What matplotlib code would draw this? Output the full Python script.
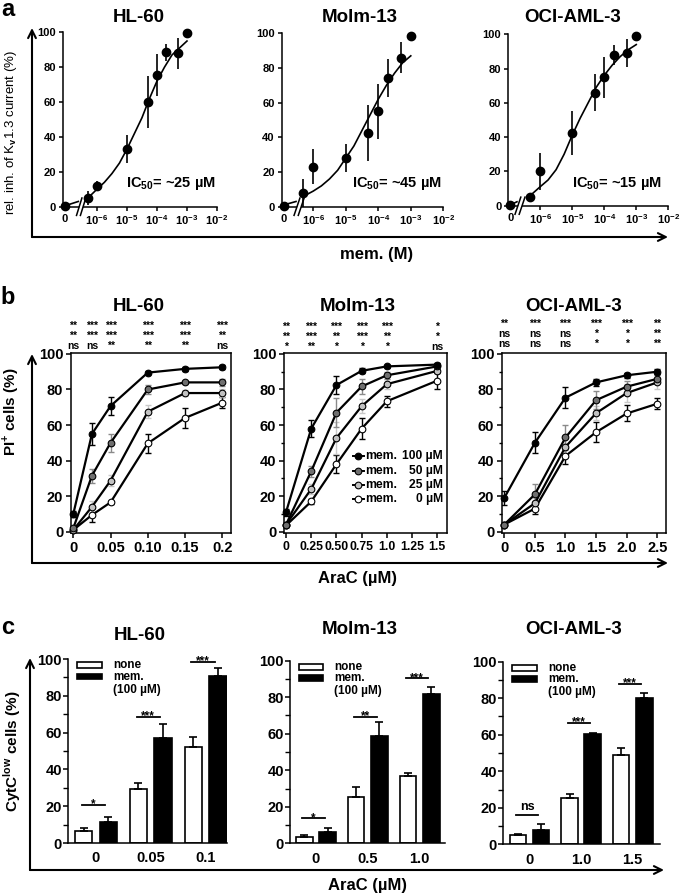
import numpy as np
import matplotlib
matplotlib.use("Agg")
import matplotlib.pyplot as plt
import matplotlib.transforms as mtransforms
from matplotlib.patches import Rectangle, Polygon

plt.rcParams['font.family'] = ['Liberation Sans', 'DejaVu Sans']
plt.rcParams['font.weight'] = 'bold'
plt.rcParams['mathtext.fontset'] = 'custom'
plt.rcParams['mathtext.rm'] = 'Liberation Sans'
plt.rcParams['mathtext.bf'] = 'Liberation Sans:bold'
plt.rcParams['axes.linewidth'] = 1.1
plt.rcParams['xtick.major.width'] = 1.1
plt.rcParams['ytick.major.width'] = 1.1
plt.rcParams['ytick.minor.width'] = 1.0

# ---------------- data: panel a (Kv1.3 inhibition) ----------------
CELL_LINES = ["HL-60", "Molm-13", "OCI-AML-3"]
A_CONC = [0, 5e-7, 1e-6, 1e-5, 5e-5, 1e-4, 2e-4, 5e-4, 1e-3]
A_INH_HL60 = [0.5, 5, 12, 33, 60, 75.5, 88.5, 88, 99.5]
A_ERR_HL60 = [0, 4, 3, 8, 15, 12, 5, 9, 0]
A_INH_MOLM = [0.5, 8, 23, 28, 42.5, 55, 74, 86, 98.5]
A_ERR_MOLM = [0, 8, 10, 8, 16, 16, 11, 9, 0]
A_INH_OCI = [0.5, 5, 20, 42.5, 66, 75, 88, 89, 99]
A_ERR_OCI = [0, 2, 11, 13, 11, 12, 6, 8, 0]
# fitted curve
FIT_LOG = [-6.3, -6.0, -5.75, -5.5, -5.25, -5.0, -4.75, -4.5, -4.25, -4.0, -3.75, -3.5, -3.25, -3.0]
FIT_HL60 = [5, 10, 14, 19, 25, 33, 42, 51, 62, 72, 80, 87, 91, 95]
FIT_MOLM = [6, 9, 12, 16, 21, 28, 35, 44, 53, 62, 70, 77, 83, 87]
FIT_OCI = [6, 11, 15, 21, 30, 41, 51, 60, 69, 76, 82, 87, 91, 94]
PRE_HL60 = [0.5, 3]
PRE_MOLM = [1, 3]
PRE_OCI = [0.4, 2.3]
IC50_TEXT = ["IC$_{\\mathbf{50}}$= ~25 µM", "IC$_{\\mathbf{50}}$= ~45 µM", "IC$_{\\mathbf{50}}$= ~15 µM"]
A_XTICKS = [-6, -5, -4, -3, -2]
A_XLABELS = ["10$^{\\mathbf{-6}}$", "10$^{\\mathbf{-5}}$", "10$^{\\mathbf{-4}}$",
             "10$^{\\mathbf{-3}}$", "10$^{\\mathbf{-2}}$"]

# ---------------- data: panel b (PI+ cells) ----------------
DOSES = ["100", "50", "25", "0"]
B_X_HL60 = [0, 0.025, 0.05, 0.1, 0.15, 0.2]
B_HL60 = [[10, 55, 70.7, 89.5, 91.6, 92.5],
          [2, 31.5, 50, 80, 84, 84],
          [1, 14, 28.7, 67.5, 78, 78],
          [1, 9.4, 16.5, 49.7, 64, 72.6]]
B_ERR_HL60 = [[1.5, 6, 5, 1, 1, 1],
              [1, 4, 5, 2.5, 1, 2],
              [1, 3, 3, 3.5, 1.5, 2],
              [1, 4, 1, 5.5, 5.5, 3]]
B_X_MOLM = [0, 0.25, 0.5, 0.75, 1.0, 1.5]
B_MOLM = [[11, 58, 82.5, 90.5, 93, 94],
          [4, 34, 67, 81.7, 88, 93],
          [4, 24, 52.7, 70.6, 83, 90.5],
          [3.5, 17, 38, 58, 73.4, 85]]
B_ERR_MOLM = [[2, 5, 5, 1.5, 1, 1],
              [1, 3, 8, 4, 2, 1.5],
              [1, 3, 9, 4, 3, 1.5],
              [1, 1.5, 5, 6, 3, 4.5]]
B_X_OCI = [0, 0.5, 1.0, 1.5, 2.0, 2.5]
B_OCI = [[19, 50, 75.4, 84, 88, 90],
         [4, 21, 53, 74, 81.6, 86],
         [4, 16, 47.7, 66.7, 78, 84],
         [4, 13, 42.6, 56, 66.5, 72]]
B_ERR_OCI = [[4, 6, 6, 2, 1.5, 1.5],
             [1, 6, 7, 5, 3, 2],
             [1, 3, 5, 4, 5, 4],
             [1, 3, 4.5, 5.5, 4.5, 3]]
B_SIG_HL60 = [["**", "**", "ns"], ["***", "***", "ns"], ["***", "***", "**"],
              ["***", "***", "**"], ["***", "***", "**"], ["***", "**", "ns"]]
B_SIG_MOLM = [["**", "**", "*"], ["***", "***", "**"], ["***", "**", "*"],
              ["***", "***", "*"], ["***", "**", "*"], ["*", "*", "ns"]]
B_SIG_OCI = [["**", "ns", "ns"], ["***", "ns", "ns"], ["***", "ns", "ns"],
             ["***", "*", "*"], ["***", "*", "*"], ["**", "**", "**"]]
B_XTICKS_HL60 = [0, 0.05, 0.10, 0.15, 0.2]
B_XLAB_HL60 = ["0", "0.05", "0.10", "0.15", "0.2"]
B_XTICKS_MOLM = [0, 0.25, 0.5, 0.75, 1.0, 1.25, 1.5]
B_XLAB_MOLM = ["0", "0.25", "0.50", "0.75", "1.0", "1.25", "1.5"]
B_XTICKS_OCI = [0, 0.5, 1.0, 1.5, 2.0, 2.5]
B_XLAB_OCI = ["0", "0.5", "1.0", "1.5", "2.0", "2.5"]

# ---------------- data: panel c (CytC low cells) ----------------
C_LAB_HL60 = ["0", "0.05", "0.1"]
C_NONE_HL60 = [6.3, 29.3, 52.4]
C_NONE_ERR_HL60 = [1.7, 3.4, 5.1]
C_MEM_HL60 = [11.2, 57, 91]
C_MEM_ERR_HL60 = [2.8, 7.5, 4]
C_SIG_HL60 = ["*", "***", "***"]
C_SIGY_HL60 = [20.8, 68.7, 98.5]
C_LAB_MOLM = ["0", "0.5", "1.0"]
C_NONE_MOLM = [3.3, 25.2, 37]
C_NONE_ERR_MOLM = [1.2, 5.5, 1.5]
C_MEM_MOLM = [6.4, 58.8, 81.6]
C_MEM_ERR_MOLM = [2, 7.5, 4]
C_SIG_MOLM = ["*", "**", "***"]
C_SIGY_MOLM = [13.7, 69.3, 90.3]
C_LAB_OCI = ["0", "1.0", "1.5"]
C_NONE_OCI = [5.1, 25.2, 48.9]
C_NONE_ERR_OCI = [0.5, 2.5, 4]
C_MEM_OCI = [7.8, 60.4, 80]
C_MEM_ERR_OCI = [3.5, 0.5, 3]
C_SIG_OCI = ["ns", "***", "***"]
C_SIGY_OCI = [16, 66.6, 87.8]

W, H = 685, 896
fig = plt.figure(figsize=(W / 100, H / 100), dpi=100)


def rect(l, t, r, b):
    return [l / W, 1 - b / H, (r - l) / W, (b - t) / H]


def ftext(x, y, s, **kw):
    fig.text(x / W, 1 - y / H, s, **kw)


# overlay for the big arrows
ov = fig.add_axes([0, 0, 1, 1], zorder=-1)
ov.set_xlim(0, W)
ov.set_ylim(H, 0)
ov.axis('off')


def big_axes(x0, ytop, ybot, xend):
    ap = dict(arrowstyle='->', lw=1.5, color='k', mutation_scale=14, shrinkA=0, shrinkB=0)
    ov.annotate('', xy=(x0, ytop), xytext=(x0, ybot), arrowprops=ap)
    ov.annotate('', xy=(xend, ybot), xytext=(x0, ybot), arrowprops=ap)


big_axes(32, 28, 237, 668)
big_axes(32, 354, 563, 668)
big_axes(30, 658, 870, 664)

ftext(8, 10, "a", fontsize=17, ha='center', va='center')
ftext(8, 297, "b", fontsize=17, ha='center', va='center')
ftext(8, 628, "c", fontsize=17, ha='center', va='center')

ftext(11, 132, "rel. inh. of K$_{\\mathrm{v}}$1.3 current (%)", fontsize=9.5, weight='normal',
      rotation=90, ha='center', va='center')
ftext(11, 412, "PI$^{\\mathbf{+}}$ cells (%)", fontsize=11, rotation=90, ha='center', va='center')
ftext(12, 751, "CytC$^{\\mathbf{low}}$ cells (%)", fontsize=11, rotation=90, ha='center', va='center')
ftext(377, 254, "mem. (M)", fontsize=12, ha='center', va='center')
ftext(357, 579, "AraC (µM)", fontsize=12, ha='center', va='center')
ftext(367, 885, "AraC (µM)", fontsize=12, ha='center', va='center')

# ---------------- panel a ----------------
a_rects = [(63, 32.3, 217, 206.7), (281.7, 33.3, 443.3, 206.7), (508.3, 34.3, 668.3, 205.7)]
a_xlims = [(-7.13, -2), (-6.97, -2), (-6.99, -2)]
a_breaks = [-6.62, -6.53, -6.72]
a_inh = [A_INH_HL60, A_INH_MOLM, A_INH_OCI]
a_err = [A_ERR_HL60, A_ERR_MOLM, A_ERR_OCI]
a_fit = [FIT_HL60, FIT_MOLM, FIT_OCI]
a_pre = [PRE_HL60, PRE_MOLM, PRE_OCI]
a_title_x = [139, 359.5, 572.5]
a_ic_x = [171, 397, 617]

for i in range(3):
    ax = fig.add_axes(rect(*a_rects[i]))
    x0 = a_xlims[i][0]
    ax.set_xlim(*a_xlims[i])
    ax.set_ylim(0, 100)
    for s in ['top', 'right']:
        ax.spines[s].set_visible(False)
    zx = x0 + 0.06
    xs = [zx if c == 0 else np.log10(c) for c in A_CONC]
    ax.errorbar(xs, a_inh[i], yerr=a_err[i], fmt='o', color='k', ms=6, elinewidth=1.2,
                capsize=0, clip_on=False, zorder=5)
    ax.plot(FIT_LOG, a_fit[i], color='k', lw=1.2, clip_on=False)
    ax.plot([zx, a_breaks[i]], a_pre[i], color='k', lw=1.2, clip_on=False)
    # axis break
    b = a_breaks[i]
    ax.add_patch(Polygon([[b - 0.02, -3.5], [b + 0.1, 3.5], [b + 0.22, 3.5], [b + 0.1, -3.5]],
                         closed=True, fc='white', ec='none', clip_on=False, zorder=3))
    for dx in (0.0, 0.13):
        ax.plot([b - 0.06 + dx, b + 0.12 + dx], [-5, 5], color='k', lw=1.1, clip_on=False, zorder=4)
    ax.set_xticks([zx] + A_XTICKS)
    ax.set_xticklabels(["0"] + A_XLABELS)
    ax.set_yticks([0, 20, 40, 60, 80, 100])
    ax.tick_params(labelsize=8, length=3, pad=2)
    for lab in ax.get_xticklabels() + ax.get_yticklabels():
        lab.set_fontweight('bold')
    ftext(a_title_x[i], 18, CELL_LINES[i], fontsize=13.5, ha='center', va='center')
    ftext(a_ic_x[i], 183, IC50_TEXT[i], fontsize=10.5, ha='center', va='center')

# ---------------- panel b ----------------
b_rects = [(71, 352.7, 231, 533.3), (284, 352.7, 447, 533.3), (502, 352.7, 665.7, 533.3)]
b_xlims = [(-0.0031, 0.2117), (-0.02, 1.596), (-0.037, 2.637)]
b_x = [B_X_HL60, B_X_MOLM, B_X_OCI]
b_y = [B_HL60, B_MOLM, B_OCI]
b_e = [B_ERR_HL60, B_ERR_MOLM, B_ERR_OCI]
b_sig = [B_SIG_HL60, B_SIG_MOLM, B_SIG_OCI]
b_ticks = [(B_XTICKS_HL60, B_XLAB_HL60), (B_XTICKS_MOLM, B_XLAB_MOLM), (B_XTICKS_OCI, B_XLAB_OCI)]
b_xtick_size = [10.5, 8.8, 10.5]
b_title_x = [139, 358, 574]
b_sig_mid = [336, 337, 334]
face = ['black', '#6f6f6f', '#c2c2c2', 'white']
ecol = ['black', '#8a8a8a', '#c8c8c8', 'black']

for i in range(3):
    l, t, r, bt = b_rects[i]
    ax = fig.add_axes(rect(l, t, r, bt))
    ax.set_xlim(*b_xlims[i])
    ax.set_ylim(-0.9, 100.7)
    for k in range(3, -1, -1):
        ax.errorbar(b_x[i], b_y[i][k], yerr=b_e[i][k], fmt='none', ecolor=ecol[k],
                    elinewidth=1.0, capsize=2.3, capthick=1.0, zorder=2)
        ax.plot(b_x[i], b_y[i][k], '-o', color='k', lw=1.6, ms=4.8, mfc=face[k], mec='k',
                mew=0.8, zorder=3, clip_on=False)
    ax.set_xticks(b_ticks[i][0])
    ax.set_xticklabels(b_ticks[i][1])
    ax.set_yticks([0, 20, 40, 60, 80, 100])
    if i > 0:
        ax.set_yticks(np.arange(10, 100, 20), minor=True)
    ax.tick_params(labelsize=10.5, length=3.5, pad=2)
    ax.tick_params(axis='x', labelsize=b_xtick_size[i])
    ax.tick_params(which='minor', length=2.5)
    for lab in ax.get_xticklabels() + ax.get_yticklabels():
        lab.set_fontweight('bold')
    # significance stacks, one text per dose column
    tr = mtransforms.blended_transform_factory(ax.transData, ax.transAxes)
    ym = (bt - b_sig_mid[i]) / (bt - t)
    for j, col in enumerate(b_sig[i]):
        ax.text(b_x[i][j], ym, "\n".join(col), transform=tr, ha='center', va='center',
                ma='center', fontsize=7.5, linespacing=1.0, clip_on=False)
    ftext(b_title_x[i], 306, CELL_LINES[i], fontsize=13.5, ha='center', va='center')
    if i == 1:
        ys = [0.428, 0.344, 0.267, 0.189]
        for k in range(4):
            ax.plot([0.425, 0.49], [ys[k], ys[k]], color='k', lw=1.4, transform=ax.transAxes)
            ax.plot([0.457], [ys[k]], 'o', ms=4.8, mfc=face[k], mec='k', mew=0.8,
                    transform=ax.transAxes)
            ax.text(0.495, ys[k], "mem.", fontsize=8.7, ha='left', va='center',
                    transform=ax.transAxes)
            ax.text(0.975, ys[k], DOSES[k] + " µM", fontsize=8.7, ha='right', va='center',
                    transform=ax.transAxes)

# ---------------- panel c ----------------
c_rects = [(68, 659, 227, 843), (290, 660.7, 445, 843.3), (503.3, 661.7, 660, 844.3)]
c_xlims = [(-0.51, 2.39), (-0.5, 2.49), (-0.51, 2.53)]
c_lab = [C_LAB_HL60, C_LAB_MOLM, C_LAB_OCI]
c_none = [C_NONE_HL60, C_NONE_MOLM, C_NONE_OCI]
c_none_e = [C_NONE_ERR_HL60, C_NONE_ERR_MOLM, C_NONE_ERR_OCI]
c_mem = [C_MEM_HL60, C_MEM_MOLM, C_MEM_OCI]
c_mem_e = [C_MEM_ERR_HL60, C_MEM_ERR_MOLM, C_MEM_ERR_OCI]
c_sig = [C_SIG_HL60, C_SIG_MOLM, C_SIG_OCI]
c_sigy = [C_SIGY_HL60, C_SIGY_MOLM, C_SIGY_OCI]
c_title = [(139.5, 635), (360, 630), (574, 630)]
bw, off = 0.32, 0.225

for i in range(3):
    ax = fig.add_axes(rect(*c_rects[i]))
    ax.set_xlim(*c_xlims[i])
    ax.set_ylim(0, 100)
    for s in ['top', 'right']:
        ax.spines[s].set_visible(False)
    g = np.arange(len(c_lab[i]))
    n = len(g)
    ax.bar(g - off, c_none[i], bw, color='white', edgecolor='k', lw=1.2,
           yerr=[np.zeros(n), c_none_e[i]], capsize=3,
           error_kw=dict(elinewidth=1.2, capthick=1.2), zorder=2)
    ax.bar(g + off, c_mem[i], bw, color='black', edgecolor='k', lw=1.2,
           yerr=[np.zeros(n), c_mem_e[i]], capsize=3,
           error_kw=dict(elinewidth=1.2, capthick=1.2), zorder=2)
    for j in range(n):
        ax.plot([g[j] - 0.26, g[j] + 0.17], [c_sigy[i][j]] * 2, color='k', lw=1.3, clip_on=False)
        star = '*' in c_sig[i][j]
        ax.text(g[j] - 0.045, c_sigy[i][j] + (0.2 if star else 1.0), c_sig[i][j],
                ha='center', va='center' if star else 'bottom',
                fontsize=8.5 if star else 9, clip_on=False)
    ax.set_xticks(g)
    ax.set_xticklabels(c_lab[i])
    ax.set_yticks([0, 20, 40, 60, 80, 100])
    ax.set_yticks(np.arange(10, 100, 20), minor=True)
    ax.tick_params(axis='x', length=0, pad=6)
    ax.tick_params(axis='y', length=3.5, pad=1)
    ax.tick_params(axis='y', which='minor', length=3.5)
    ax.tick_params(labelsize=10.5)
    for lab in ax.get_xticklabels() + ax.get_yticklabels():
        lab.set_fontweight('bold')
    # legend
    ax.add_patch(Rectangle((0.057, 0.95), 0.157, 0.033, transform=ax.transAxes,
                           fc='white', ec='k', lw=1.2, clip_on=False))
    ax.add_patch(Rectangle((0.057, 0.89), 0.157, 0.03, transform=ax.transAxes,
                           fc='black', ec='k', lw=1.2, clip_on=False))
    ax.text(0.285, 0.967, "none", fontsize=8.5, ha='left', va='center', transform=ax.transAxes)
    ax.text(0.285, 0.903, "mem.", fontsize=8.5, ha='left', va='center', transform=ax.transAxes)
    ax.text(0.285, 0.832, "(100 µM)", fontsize=8.5, ha='left', va='center', transform=ax.transAxes)
    ftext(c_title[i][0], c_title[i][1], CELL_LINES[i], fontsize=13.5, ha='center', va='center')

fig.savefig("out.png", dpi=100)
